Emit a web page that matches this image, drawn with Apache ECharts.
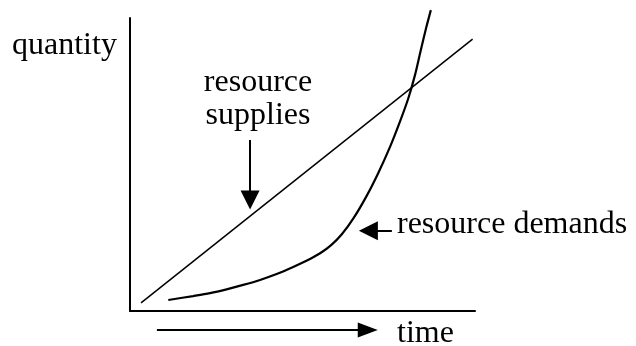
<!DOCTYPE html>
<html>
<head>
<meta charset="utf-8">
<script src="https://cdn.jsdelivr.net/npm/echarts@6/dist/echarts.min.js"></script>
<style>
  html, body { margin: 0; padding: 0; background: #fff; }
  #chart { width: 636px; height: 346px; }
</style>
</head>
<body>
<div id="chart"></div>
<script>
// data units: time 0..100 along x, quantity 0..100 along y
const supplies = [[3.2, 2.8], [99.3, 92.8]]
const demands = [
  [11.1, 3.75], [18.3, 5.1], [23.2, 6.1], [28.0, 7.4], [32.8, 8.9],
  [37.7, 10.6], [42.5, 12.6], [47.3, 15.0], [51.3, 17.2], [55.1, 19.7],
  [58.3, 22.5], [61.4, 26.2], [64.7, 31.5], [68.6, 39.3], [72.0, 47.2],
  [75.4, 56.1], [78.3, 64.8], [80.7, 72.7], [82.6, 80.5], [84.3, 89.1],
  [85.9, 96.9], [87.2, 102.7]
]
// pointer arrows [from, to]
const suppliesArrow = [[34.8, 58.4], [34.8, 37.9]]
const demandsArrow = [[75.9, 27.4], [69.1, 27.4]]
// time arrow along x, drawn below the axis
const timeArrow = [7.8, 66.6]

const labels = {
  y: 'quantity',
  x: 'time',
  supplies: ['resource', 'supplies'],
  demands: 'resource demands'
}

const font = '"Liberation Serif", "Times New Roman", serif'
const chart = echarts.init(document.getElementById('chart'))

const axisBase = {
  type: 'value',
  min: 0,
  max: 100,
  axisLine: { show: true, lineStyle: { color: '#000', width: 2 } },
  axisTick: { show: false },
  axisLabel: { show: false },
  splitLine: { show: false }
}

chart.setOption({
  animation: false,
  grid: { left: 130, right: 161, top: 18, bottom: 35 },
  xAxis: axisBase,
  yAxis: axisBase,
  series: [
    {
      name: 'supplies',
      type: 'line',
      data: supplies,
      showSymbol: false,
      lineStyle: { color: '#000', width: 1.5 },
      markLine: {
        silent: true,
        symbol: ['none', 'triangle'],
        symbolSize: [19, 19],
        label: { show: false },
        lineStyle: { color: '#000', width: 2, type: 'solid' },
        data: [
          [{ coord: suppliesArrow[0] }, { coord: suppliesArrow[1] }],
          [{ coord: demandsArrow[0] }, { coord: demandsArrow[1] }]
        ]
      }
    },
    {
      name: 'demands',
      type: 'line',
      data: demands,
      smooth: 0.3,
      clip: false,
      showSymbol: false,
      lineStyle: { color: '#000', width: 2.2 }
    }
  ]
})

// time arrow and labels
const p0 = chart.convertToPixel({ gridIndex: 0 }, [timeArrow[0], 0])
const p1 = chart.convertToPixel({ gridIndex: 0 }, [timeArrow[1], 0])
const ay = p0[1] + 19

const textStyle = (text, x, y, align) => ({
  type: 'text',
  x: x,
  y: y,
  style: {
    text: text,
    fill: '#000',
    font: '32px ' + font,
    align: align,
    verticalAlign: 'middle'
  }
})

chart.setOption({
  graphic: [
    {
      type: 'line',
      shape: { x1: p0[0], y1: ay, x2: p1[0], y2: ay },
      style: { stroke: '#000', lineWidth: 2 }
    },
    {
      type: 'polygon',
      shape: { points: [[p1[0] - 2, ay - 7.5], [p1[0] + 18, ay], [p1[0] - 2, ay + 7.5]] },
      style: { fill: '#000' }
    },
    textStyle(labels.y, 12, 45.5, 'left'),
    textStyle(labels.supplies[0], 258, 82.5, 'center'),
    textStyle(labels.supplies[1], 258, 115.5, 'center'),
    textStyle(labels.demands, 397, 224.5, 'left'),
    textStyle(labels.x, 397, 333.5, 'left')
  ]
})
</script>
</body>
</html>
